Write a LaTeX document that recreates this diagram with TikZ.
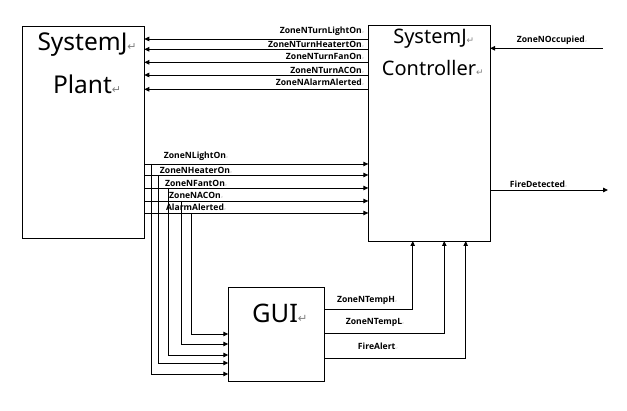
\documentclass[tikz,border=0pt]{standalone}
\usepackage{fontspec}
\setmainfont{Noto Sans}
\newfontfamily\sigfont{Open Sans}
\newfontfamily\markfont{DejaVu Sans}
\usetikzlibrary{arrows.meta,positioning,calc}
\newcommand{\pmark}{\rlap{\markfont\color{gray}\scalebox{0.45}{\char"21B5}}}
\newcommand{\smark}{\rlap{\markfont\mdseries\color{gray!70}\scalebox{0.35}{\char"21B5}}}

\begin{document}
\begin{tikzpicture}[x=1pt,y=-1pt,>={Triangle[length=5pt,width=4.5pt]},
  block/.style={draw,line width=0.9pt,inner sep=0pt,outer sep=0pt},
  sig/.style={font=\sigfont\bfseries\fontsize{8.6}{9}\selectfont,inner sep=0pt},
  title/.style={inner sep=0pt},
  arr/.style={->,line width=0.9pt}]
  \useasboundingbox (0,0) rectangle (627,411);

  % the three blocks
  \node[block,minimum width=121.6pt,minimum height=212.3pt] (plant) at (83.5,132.2) {};
  \node[block,minimum width=121.7pt,minimum height=216pt] (ctrl) at (429.2,133) {};
  \node[block,minimum width=96pt,minimum height=93.7pt] (gui) at (276.3,334.2) {};

  % block titles
  \node[title,font=\fontsize{24.5}{28}\selectfont] (plant_t1) at (82.5,45) {SystemJ\pmark};
  \node[title,font=\fontsize{24.5}{28}\selectfont] (plant_t2) at (82.5,84) {Plant\pmark};
  \node[title,font=\fontsize{20}{24}\selectfont] (ctrl_t1) at (430,38.3) {SystemJ\pmark};
  \node[title,font=\fontsize{20}{24}\selectfont] (ctrl_t2) at (429,68.3) {Controller\pmark};
  \node[title,font=\fontsize{25.5}{30}\selectfont] (gui_t) at (275,313) {GUI\pmark};

  % controller -> plant
  \foreach \y/\ly/\txt in {39/31/ZoneNTurnLightOn,49.3/44/ZoneNTurnHeatertOn,
      62.3/56/ZoneNTurnFanOn,75/70/ZoneNTurnACOn,89.3/82/ZoneNAlarmAlerted} {
    \draw[arr] (ctrl.west |- 0,\y) -- (plant.east |- 0,\y);
    \node[sig,anchor=east] at (362,\ly) {\txt\smark};
  }

  % plant -> controller, with branches down to the GUI
  \foreach \i/\y/\ly/\bx/\gy/\txt in {1/164/156/151/374/ZoneNLightOn,
      2/175/170.7/158/363/ZoneNHeaterOn,3/188/183.3/168.7/355/ZoneNFantOn,
      4/201/195/181/344/ZoneNACOn,5/213/207.3/191.7/334/AlarmAlerted} {
    \draw[arr] (plant.east |- 0,\y) -- (ctrl.west |- 0,\y);
    \coordinate (br\i) at (\bx,\y);
    \draw[arr] (br\i) |- (gui.west |- 0,\gy);
    \node[sig] at (195,\ly) {\txt\smark};
  }

  % GUI -> controller
  \foreach \y/\x/\lx/\ly/\txt in {309.3/412.7/366/300/ZoneNTempH,
      333.3/444.3/374/322/ZoneNTempL,358/465.7/376.7/346.7/FireAlert} {
    \draw[arr] (gui.east |- 0,\y) -| (ctrl.south -| \x,0);
    \node[sig] at (\lx,\ly) {\txt\smark};
  }

  % external signals
  \coordinate (occ) at (602.7,48.3);
  \draw[arr] (occ) -- (ctrl.east |- occ);
  \node[sig] (occ_l) at (550.8,40) {ZoneNOccupied\smark};

  \coordinate (fire) at (608,190);
  \draw[arr] (ctrl.east |- fire) -- (fire);
  \node[sig] (fire_l) at (537.5,184.3) {FireDetected\smark};
\end{tikzpicture}
\end{document}
